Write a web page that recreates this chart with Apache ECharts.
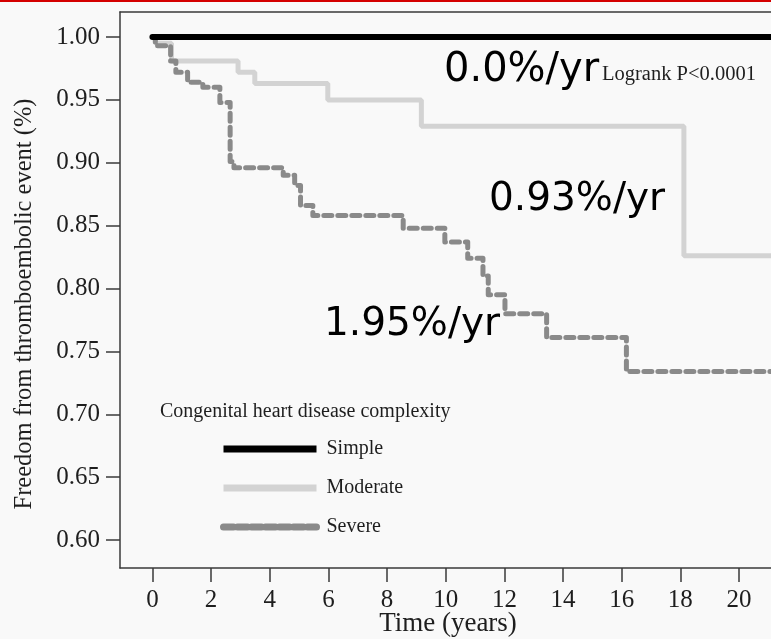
<!DOCTYPE html>
<html>
<head>
<meta charset="utf-8">
<script src="https://cdn.jsdelivr.net/npm/echarts@6/dist/echarts.min.js"></script>
<style>
  html, body { margin: 0; padding: 0; background: #f9f9f9; }
  #chart { width: 771px; height: 639px; }
</style>
</head>
<body>
<div id="chart"></div>
<script>
// Kaplan-Meier estimates: freedom from thromboembolic event by CHD complexity
const simpleTimes = [0, 23];
const simpleSurv = [1.0, 1.0];

const moderateTimes = [0, 0.1, 0.65, 2.92, 3.49, 5.98, 9.17, 18.12, 23];
const moderateSurv = [1.0, 0.995, 0.981, 0.972, 0.963, 0.950, 0.929, 0.826, 0.826];

const severeTimes = [0, 0.1, 0.62, 0.8, 1.2, 1.72, 2.3, 2.65, 2.78, 4.46, 4.85, 5.05, 5.47, 8.55, 9.97, 10.75, 11.27, 11.45, 12.02, 13.44, 16.16, 23];
const severeSurv = [1.0, 0.993, 0.981, 0.972, 0.964, 0.960, 0.948, 0.901, 0.896, 0.890, 0.882, 0.866, 0.858, 0.848, 0.837, 0.824, 0.810, 0.795, 0.780, 0.761, 0.734, 0.734];

const xTicks = [0, 2, 4, 6, 8, 10, 12, 14, 16, 18, 20];
const yTicks = [0.60, 0.65, 0.70, 0.75, 0.80, 0.85, 0.90, 0.95, 1.00];

const seriesNames = ['Simple', 'Moderate', 'Severe'];
const rateLabels = ['0.0%/yr', '0.93%/yr', '1.95%/yr'];
const testLabel = 'Logrank P<0.0001';
const legendTitle = 'Congenital heart disease complexity';
const xTitle = 'Time (years)';
const yTitle = 'Freedom from thromboembolic event (%)';

const pairs = (t, s) => t.map((v, i) => [v, s[i]]);

const serif = '"Liberation Serif", "Times New Roman", serif';
const sans = '"DejaVu Sans", Verdana, sans-serif';
const axisColor = '#3a3a3a';
const textColor = '#1e1e1e';

const colors = { simple: '#000000', moderate: '#d3d3d3', severe: '#8a8a8a' };
const severeDash = [8, 6];

const X_MIN = -1.105, X_MAX = 21.09;
const Y_MIN = 0.5778, Y_MAX = 1.0199;

const chart = echarts.init(document.getElementById('chart'));

chart.setOption({
  animation: false,
  backgroundColor: '#f9f9f9',
  title: {
    text: legendTitle,
    left: 155,
    top: 397,
    textStyle: { fontFamily: serif, fontSize: 20, fontWeight: 'normal', color: textColor }
  },
  legend: {
    data: [
      { name: seriesNames[0], lineStyle: { width: 7, color: colors.simple, cap: 'butt' } },
      { name: seriesNames[1], lineStyle: { width: 7, color: colors.moderate, cap: 'butt' } },
      { name: seriesNames[2], lineStyle: { width: 7, color: colors.severe, type: [10, 4], cap: 'round' } }
    ],
    orient: 'vertical',
    left: 215,
    top: 434,
    itemWidth: 93,
    itemHeight: 14,
    itemGap: 19,
    itemStyle: { opacity: 0, borderWidth: 0 },
    textStyle: { fontFamily: serif, fontSize: 20, color: textColor, padding: [0, 0, 0, 5] }
  },
  grid: {
    left: 120,
    top: 12,
    right: 0,
    bottom: 71,
    show: false,
    outerBoundsMode: 'none'
  },
  xAxis: [
    {
      type: 'value',
      min: X_MIN,
      max: X_MAX,
      axisLine: { show: true, onZero: false, lineStyle: { color: axisColor, width: 1.5 } },
      axisTick: { show: true, inside: false, length: 14, customValues: xTicks, lineStyle: { color: axisColor, width: 1.5 } },
      axisLabel: { customValues: xTicks, margin: 20, fontFamily: serif, fontSize: 25, color: textColor },
      splitLine: { show: false }
    },
    {
      // top frame edge
      type: 'value',
      position: 'top',
      min: X_MIN,
      max: X_MAX,
      axisLine: { show: true, onZero: false, lineStyle: { color: axisColor, width: 1.5 } },
      axisTick: { show: false },
      axisLabel: { show: false },
      splitLine: { show: false }
    }
  ],
  yAxis: {
    type: 'value',
    min: Y_MIN,
    max: Y_MAX,
    axisLine: { show: true, onZero: false, lineStyle: { color: axisColor, width: 1.5 } },
    axisTick: { show: true, inside: false, length: 14, customValues: yTicks, lineStyle: { color: axisColor, width: 1.5 } },
    axisLabel: {
      customValues: yTicks,
      margin: 20,
      fontFamily: serif,
      fontSize: 25,
      color: textColor,
      formatter: v => v.toFixed(2)
    },
    splitLine: { show: false }
  },
  series: [
    {
      name: seriesNames[1],
      type: 'line',
      step: 'end',
      symbol: 'none',
      data: pairs(moderateTimes, moderateSurv),
      lineStyle: { color: colors.moderate, width: 5 },
      itemStyle: { color: colors.moderate },
      z: 2
    },
    {
      name: seriesNames[2],
      type: 'line',
      step: 'end',
      symbol: 'none',
      data: pairs(severeTimes, severeSurv),
      lineStyle: { color: colors.severe, width: 5, type: severeDash, cap: 'round', join: 'round' },
      itemStyle: { color: colors.severe },
      z: 3
    },
    {
      name: seriesNames[0],
      type: 'line',
      step: 'end',
      symbol: 'none',
      data: pairs(simpleTimes, simpleSurv),
      lineStyle: { color: colors.simple, width: 6, cap: 'round' },
      itemStyle: { color: colors.simple },
      z: 4
    }
  ],
  graphic: [
    { type: 'rect', shape: { x: 0, y: 0, width: 771, height: 2 }, style: { fill: '#d40000' }, z: 10 },
    {
      type: 'text', x: 25, y: 304, rotation: Math.PI / 2,
      style: { text: yTitle, font: '24.5px ' + serif, fill: textColor, textAlign: 'center', textVerticalAlign: 'middle' }, z: 10
    },
    {
      type: 'text', x: 448, y: 624,
      style: { text: xTitle, font: '27px ' + serif, fill: textColor, textAlign: 'center', textVerticalAlign: 'middle' }, z: 10
    },
    { type: 'text', x: 444, y: 71, style: { text: rateLabels[0], font: '40px ' + sans, fill: '#000', textVerticalAlign: 'middle' }, z: 10 },
    { type: 'text', x: 602, y: 75, style: { text: testLabel, font: '20.5px ' + serif, fill: textColor, textVerticalAlign: 'middle' }, z: 10 },
    { type: 'text', x: 489, y: 200, style: { text: rateLabels[1], font: '39px ' + sans, fill: '#000', textVerticalAlign: 'middle' }, z: 10 },
    { type: 'text', x: 324, y: 325, style: { text: rateLabels[2], font: '39px ' + sans, fill: '#000', textVerticalAlign: 'middle' }, z: 10 }
  ]
});
</script>
</body>
</html>
